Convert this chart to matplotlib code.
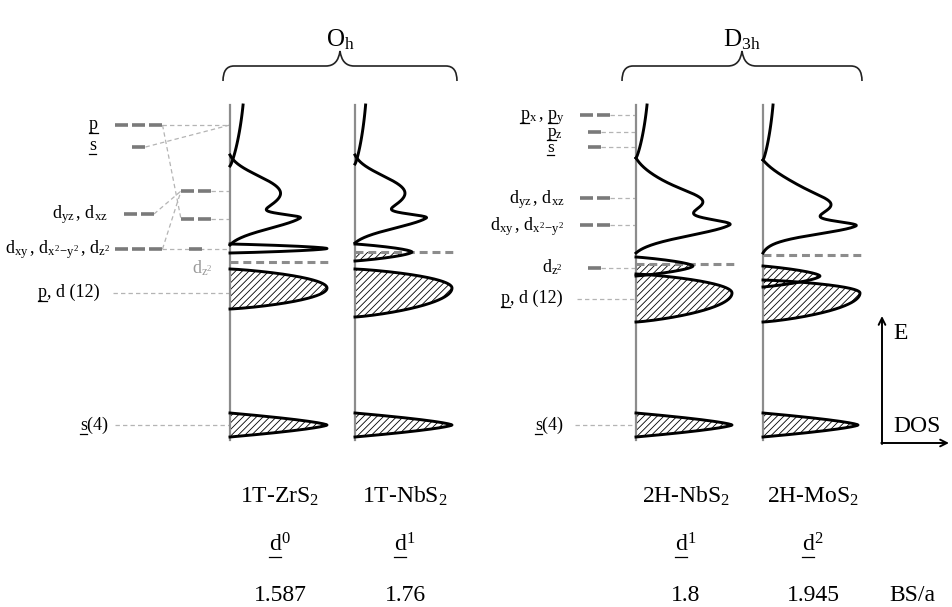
import numpy as np
import matplotlib.pyplot as plt
from matplotlib.path import Path
from matplotlib.patches import PathPatch

plt.rcParams['font.family'] = ['Liberation Serif', 'DejaVu Serif']
plt.rcParams['mathtext.fontset'] = 'custom'
plt.rcParams['mathtext.rm'] = 'Liberation Serif'
plt.rcParams['mathtext.it'] = 'Liberation Serif:italic'
plt.rcParams['mathtext.default'] = 'rm'
plt.rcParams['hatch.linewidth'] = 0.6

# compounds, left to right
compounds = ['1T-ZrS$_2$', '1T-NbS$_2$', '2H-NbS$_2$', '2H-MoS$_2$']
d_count = ['0', '1', '1', '2']
bs_a = ['1.587', '1.76', '1.8', '1.945']
groups = ['O$_h$', 'D$_{3h}$']

# energies on a downward scale, DOS heights in the same units
e_fermi = [262, 252, 264, 255]
# s/p band tail coming in from above: centre, lower edge, height
sp_tail = [(60, 166, 15.3), (60, 164, 12.5), (60, 158, 13.3), (60, 160, 12.0)]
# d manifold: energy window and gaussian parts (centre, width above, width below, height)
d_window = [(155, 245), (155, 243), (158, 253), (160, 253)]
d_parts = [
    [(200, 18, 18, 38), (186, 14, 14, 22), (218, 3.4, 11.5, 50)],
    [(200, 18, 18, 38), (186, 14, 14, 22), (218, 3.6, 11.0, 52)],
    [(205, 22, 22, 62), (200, 8, 8, 13), (225, 5, 11, 60)],
    [(207, 24, 20, 66), (203, 7, 7, 10), (226, 4, 8, 57)],
]
# single bands: upper edge, peak, lower edge, height
dz2_band = [(244, 248.5, 253, 97), (244, 252, 261, 57), (257, 266, 276, 57), (266, 276, 287, 57)]
pd_band = [(269, 288, 309, 97), (269, 288, 317, 97), (274, 293, 322, 96), (280, 293, 322, 97)]
s_band = [(413, 425, 437, 97), (413, 425, 437, 97), (413, 425, 437, 96), (413, 425, 437, 95)]

# ligand field levels: (energy, degeneracy)
oh_free = [(125, 3), (147, 1), (214, 2), (249, 3)]
oh_split = [(191, 2), (219, 2), (249, 1)]
d3h_levels = [(115, 2), (132, 1), (147, 1), (198, 2), (225, 2), (268, 1)]
pd_level = [293, 299]
s_level = 425

W, H = 953, 607
fig = plt.figure(figsize=(W / 100, H / 100), dpi=100)
ax = fig.add_axes([0, 0, 1, 1])
ax.set_xlim(0, W)
ax.set_ylim(H, 0)
ax.axis('off')
renderer = fig.canvas.get_renderer()

col_x = [230, 355, 636, 763]
top, bottom = 105, 440
gray = '#8c8c8c'
level_gray = '#7a7a7a'
thin_gray = '#b4b4b4'


def lobe(E, upper, mid, lower, amp, p, q):
    u = np.where(E < mid, (mid - E) / (mid - upper), (E - mid) / (lower - mid))
    return amp * np.clip(1 - np.abs(u) ** p, 0, None) ** q


def d_band(E, parts):
    dos = np.zeros_like(E)
    for c, su, sd, a in parts:
        s = np.where(E < c, su, sd)
        dos += a * np.exp(-0.5 * ((E - c) / s) ** 2)
    base = np.interp(E, [E[0], E[-1]], [dos[0], dos[-1]])
    return np.clip(dos - base, 0, None)


def text_width(s, size):
    t = ax.text(0, 0, s, fontsize=size)
    w = t.get_window_extent(renderer).width
    t.remove()
    return w


def label(x, y, s, size=13, ha='right', color='k', marks=(), ul=3.5):
    t = ax.text(x, y, s, fontsize=size, ha=ha, va='baseline', color=color)
    right = t.get_window_extent(renderer).x1
    for tail, glyph in marks:
        x0 = right - text_width(tail, size)
        ax.plot([x0, x0 + text_width(glyph, size)], [y + ul, y + ul], color=color, lw=0.9)


def level(cx, y, n):
    width = n * 13 + (n - 1) * 4
    x = cx - width / 2
    for k in range(n):
        ax.plot([x + 17 * k, x + 17 * k + 13], [y, y], color=level_gray, lw=2.6,
                solid_capstyle='butt', zorder=3)
    return x, x + width


def connector(xs, ys):
    ax.plot(xs, ys, color=thin_gray, lw=0.9, dashes=(3.5, 2.5), zorder=1)


def brace(xa, xb, y_end=81, y_flat=66, y_tip=51, r=11):
    xm = (xa + xb) / 2
    verts = [(xa, y_end), (xa, y_flat), (xa + r, y_flat),
             (xm - 14, y_flat), (xm - 2, y_flat), (xm, y_tip),
             (xm + 2, y_flat), (xm + 14, y_flat),
             (xb - r, y_flat), (xb, y_flat), (xb, y_end)]
    codes = [Path.MOVETO, Path.CURVE3, Path.CURVE3, Path.LINETO, Path.CURVE3, Path.CURVE3,
             Path.CURVE3, Path.CURVE3, Path.LINETO, Path.CURVE3, Path.CURVE3]
    ax.add_patch(PathPatch(Path(verts, codes), facecolor='none', edgecolor='#222222', lw=1.2))


# DOS columns
for i, x0 in enumerate(col_x):
    ef = e_fermi[i]
    ax.plot([x0, x0], [top, bottom], color=gray, lw=1.6, zorder=3)

    c, lo, a = sp_tail[i]
    E = np.linspace(top, lo, 120)
    ax.plot(x0 + lobe(E, 0, c, lo, a, 2, 0.8), E, color='k', lw=2.1, zorder=4)

    E = np.linspace(*d_window[i], 400)
    ax.plot(x0 + d_band(E, d_parts[i]), E, color='k', lw=2.1, zorder=4)

    # filled (hatched) part of each band sits below the Fermi level
    for band, (p, q) in [(dz2_band[i], (1.6, 0.9)), (pd_band[i], (2.0, 0.8)), (s_band[i], (1.4, 1.0))]:
        E = np.linspace(band[0], band[2], 300)
        dos = lobe(E, *band, p, q)
        ax.fill_betweenx(E, x0, x0 + dos, where=E >= ef, interpolate=True,
                         facecolor='none', edgecolor='k', hatch='/////', lw=0, zorder=2)
        ax.plot(x0 + dos, E, color='k', lw=2.1, zorder=4)

    ax.plot([x0, x0 + 100], [ef, ef], color=gray, lw=2.2, dashes=(2.6, 1.6), zorder=3.5)

    cx = x0 + 50
    ax.text(cx, 503, compounds[i], fontsize=17, ha='center', va='baseline')
    dn = '$d^{%s}$' % d_count[i]
    label(cx, 552, dn, size=17, ha='center', marks=[(dn, 'd')], ul=5)
    ax.text(cx, 601, bs_a[i], fontsize=17, ha='center', va='baseline')

ax.text(912, 601, 'BS/a', fontsize=17, ha='center', va='baseline')

# point groups
brace(223, 457)
brace(622, 862)
ax.text(340, 46, groups[0], fontsize=18, ha='center', va='baseline')
ax.text(742, 46, groups[1], fontsize=18, ha='center', va='baseline')

# octahedral side: atomic levels, split levels, connectors
p_l, p_r = level(139, oh_free[0][0], oh_free[0][1])
s_l, s_r = level(139, oh_free[1][0], oh_free[1][1])
yz_l, yz_r = level(139, oh_free[2][0], oh_free[2][1])
xy_l, xy_r = level(139, oh_free[3][0], oh_free[3][1])
split = [level(196, y, n) for y, n in oh_split]

connector([p_r, col_x[0]], [oh_free[0][0]] * 2)
connector([s_r, col_x[0]], [oh_free[1][0], oh_free[0][0]])
connector([p_r, split[1][0]], [oh_free[0][0], oh_split[1][0]])
connector([yz_r, split[0][0]], [oh_free[2][0], oh_split[0][0]])
connector([xy_r, split[0][0]], [oh_free[3][0], oh_split[0][0]])
connector([split[0][1], col_x[0]], [oh_split[0][0]] * 2)
connector([split[1][1], col_x[0]], [oh_split[1][0]] * 2)
connector([xy_r, col_x[0]], [oh_free[3][0]] * 2)
connector([113, col_x[0]], [pd_level[0]] * 2)
connector([115, col_x[0]], [s_level] * 2)

label(89, 129, 'p', ha='left', marks=[('p', 'p')])
label(89, 150, 's', ha='left', marks=[('s', 's')])
label(108, 218, r'$d_{yz}\,,\,d_{xz}$')
label(110, 253, r'$d_{xy}\,,\,d_{x^2\!-\!y^2}\,,\,d_{z^2}$')
label(202, 273, r'$d_{z^2}$', ha='center', color='#9a9a9a')
label(100, 297, 'p, d (12)', marks=[('p, d (12)', 'p')])
label(108, 430, 's(4)', marks=[('s(4)', 's')])

# trigonal prismatic side
for y, n in d3h_levels:
    l, r = level(595, y, n)
    connector([r, col_x[2]], [y, y])
connector([577, col_x[2]], [pd_level[1]] * 2)
connector([575, col_x[2]], [s_level] * 2)

label(565, 119, r'$p_x\,,\,p_y$', marks=[(r'$p_x\,,\,p_y$', 'p'), (r'$p_y$', 'p')])
label(547, 136, r'$p_z$', size=12.5, ha='left', marks=[(r'$p_z$', 'p')])
label(547, 151.5, 's', size=12.5, ha='left', marks=[('s', 's')])
label(565, 203, r'$d_{yz}\,,\,d_{xz}$')
label(564, 230, r'$d_{xy}\,,\,d_{x^2\!-\!y^2}$')
label(563, 272, r'$d_{z^2}$')
label(563, 303, 'p, d (12)', marks=[('p, d (12)', 'p')])
label(563, 430, 's(4)', marks=[('s(4)', 's')])

# E / DOS axes key
ax.annotate('', xy=(882, 316), xytext=(882, 444),
            arrowprops=dict(arrowstyle='->', lw=1.4, color='k', shrinkA=0, shrinkB=0, mutation_scale=12))
ax.annotate('', xy=(949, 443), xytext=(881.3, 443),
            arrowprops=dict(arrowstyle='->', lw=1.4, color='k', shrinkA=0, shrinkB=0, mutation_scale=12))
ax.text(893, 339, 'E', fontsize=17, va='baseline')
ax.text(893, 432, 'DOS', fontsize=17, va='baseline')

fig.savefig('out.png', dpi=100)
